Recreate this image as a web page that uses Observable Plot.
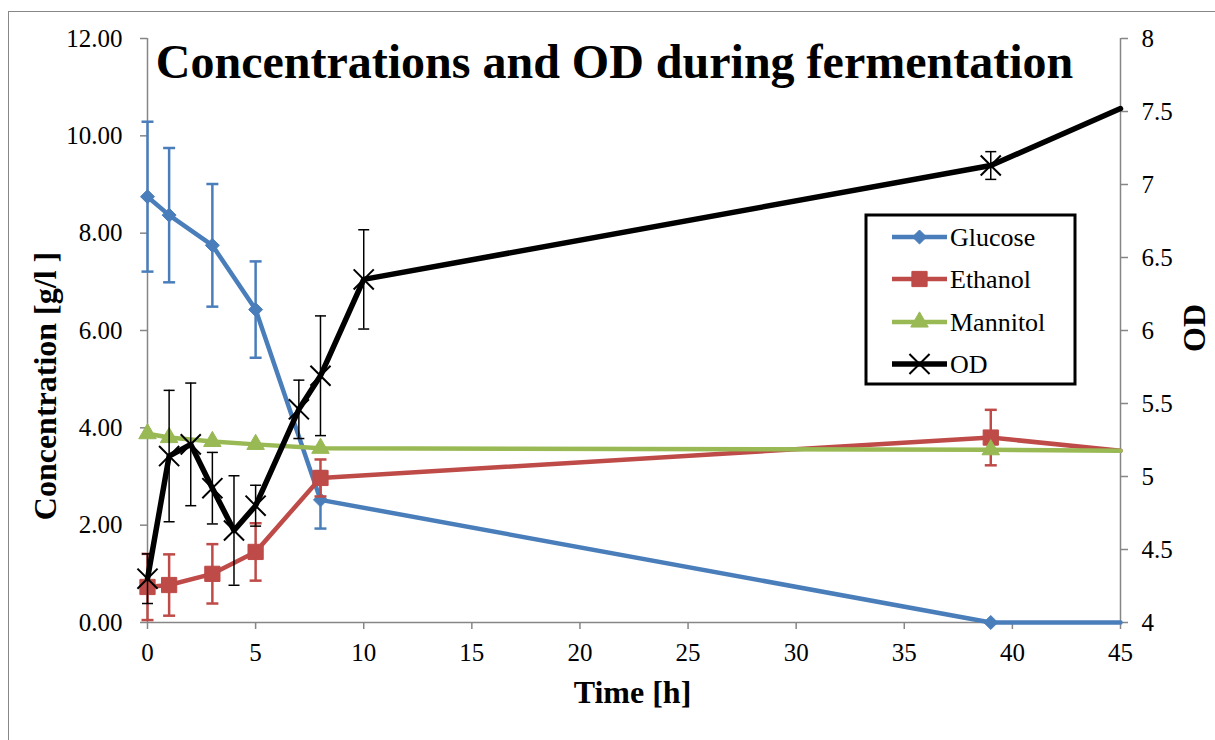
<!DOCTYPE html>
<html><head><meta charset="utf-8">
<script src="https://cdn.jsdelivr.net/npm/d3@7"></script>
<script src="https://cdn.jsdelivr.net/npm/@observablehq/plot@0.6"></script>
<style>
html,body{margin:0;padding:0;background:#fff;overflow:hidden;}
#wrap{position:relative;width:1215px;height:740px;overflow:hidden;background:#fff;}
#frame{position:absolute;left:8px;top:11px;width:1300px;height:900px;border:1.5px solid #888;box-sizing:border-box;}
#wrap svg{position:absolute;left:0;top:0;}
</style></head><body><div id="wrap"><div id="frame"></div></div>
<script>
// ---- data ----
const glucoseTime = [0, 1, 3, 5, 8, 39, 45];
const glucose     = [8.75, 8.37, 7.75, 6.43, 2.52, 0.00, 0.00];
const glucoseErr  = [1.54, 1.38, 1.26, 0.99, 0.59, 0, 0];

const ethanolTime = [0, 1, 3, 5, 8, 39, 45];
const ethanol     = [0.73, 0.77, 1.00, 1.45, 2.97, 3.80, 3.53];
const ethanolErr  = [0.68, 0.63, 0.61, 0.59, 0.38, 0.57, 0];

const mannitolTime = [0, 1, 3, 5, 8, 39, 45];
const mannitol     = [3.88, 3.80, 3.72, 3.66, 3.58, 3.55, 3.53];

const odTime = [0, 1, 2, 3, 4, 5, 7, 8, 10, 39, 45];
const od     = [4.30, 5.14, 5.22, 4.92, 4.63, 4.80, 5.46, 5.69, 6.35, 7.13, 7.52];
const odErr  = [0.17, 0.45, 0.42, 0.245, 0.375, 0.14, 0.20, 0.41, 0.34, 0.095, 0];

const xTicks = [0, 5, 10, 15, 20, 25, 30, 35, 40, 45];
const yTicks = [0, 2, 4, 6, 8, 10, 12];
const odTicks = [4, 4.5, 5, 5.5, 6, 6.5, 7, 7.5, 8];

const seriesNames = ["Glucose", "Ethanol", "Mannitol", "OD"];
const colors = ["#4A7EBB", "#BE4B48", "#98B954", "#000000"];
const title = "Concentrations and OD during fermentation";
const yLabel = "Concentration [g/l ]";
const y2Label = "OD";
const xLabel = "Time [h]";

// ---- helpers ----
const xMax = 45;
const od2y = v => (v - 4) * 3;   // secondary axis (4..8) onto primary (0..12)
const rows = (t, v, e) => t.map((ti, i) => ({t: ti, v: v[i], e: e ? e[i] : 0}));
const gRows = rows(glucoseTime, glucose, glucoseErr);
const eRows = rows(ethanolTime, ethanol, ethanolErr);
const mRows = rows(mannitolTime, mannitol);
const oRows = rows(odTime, od.map(od2y), odErr.map(e => e * 3));

const capSym = {draw(ctx, size) { const r = Math.sqrt(size / Math.PI); ctx.moveTo(-r, 0); ctx.lineTo(r, 0); }};
const AX = "#868686";
const FONT = "'Liberation Serif', 'Times New Roman', serif";

function errMarks(data, color, sw, capR) {
  const d = data.filter(r => r.e > 0 && r.t < xMax);
  return [
    Plot.ruleX(d, {x: "t", y1: r => r.v - r.e, y2: r => r.v + r.e, stroke: color, strokeWidth: sw}),
    Plot.dot(d, {x: "t", y: r => r.v + r.e, symbol: capSym, r: capR, stroke: color, strokeWidth: sw, fill: "none"}),
    Plot.dot(d, {x: "t", y: r => r.v - r.e, symbol: capSym, r: capR, stroke: color, strokeWidth: sw, fill: "none"})
  ];
}

const chart = Plot.plot({
  width: 1215, height: 740,
  marginLeft: 147, marginRight: 95, marginTop: 38, marginBottom: 118,
  x: {domain: [0, xMax]},
  y: {domain: [0, 12]},
  style: {fontFamily: FONT, fontSize: "25px", color: "black", background: "transparent"},
  marks: [
    Plot.axisX({ticks: xTicks, tickSize: 7, tickPadding: 14, stroke: AX, color: "black", strokeWidth: 1.5, label: null, tickFormat: d => String(d)}),
    Plot.axisY({ticks: yTicks, anchor: "left", tickSize: 7, tickPadding: 18, stroke: AX, color: "black", strokeWidth: 1.5, label: null, tickFormat: d => d.toFixed(2)}),
    Plot.axisY({ticks: odTicks.map(od2y), anchor: "right", tickSize: 7, tickPadding: 14, stroke: AX, color: "black", strokeWidth: 1.5, label: null, tickFormat: d => String(+(d / 3 + 4).toFixed(2))}),
    Plot.ruleX([0, xMax], {stroke: AX, strokeWidth: 1.5}),
    Plot.ruleY([0], {stroke: AX, strokeWidth: 1.5}),
    // Glucose
    ...errMarks(gRows, colors[0], 2.5, 6),
    Plot.line(gRows, {x: "t", y: "v", stroke: colors[0], strokeWidth: 4.5, strokeLinejoin: "round"}),
    Plot.dot(gRows.filter(r => r.t < xMax), {x: "t", y: "v", symbol: "diamond2", r: 6.3, fill: colors[0], stroke: colors[0], strokeWidth: 1}),
    // Ethanol
    ...errMarks(eRows, colors[1], 2.5, 6),
    Plot.line(eRows, {x: "t", y: "v", stroke: colors[1], strokeWidth: 4.5, strokeLinejoin: "round"}),
    Plot.dot(eRows.filter(r => r.t < xMax), {x: "t", y: "v", symbol: "square", r: 8.6, fill: colors[1], stroke: colors[1], strokeWidth: 1}),
    // Mannitol
    Plot.line(mRows, {x: "t", y: "v", stroke: colors[2], strokeWidth: 4.5, strokeLinejoin: "round"}),
    Plot.dot(mRows.filter(r => r.t < xMax), {x: "t", y: "v", symbol: "triangle", r: 6.5, fill: colors[2], stroke: colors[2], strokeWidth: 1}),
    // OD (secondary axis)
    ...errMarks(oRows, colors[3], 1.5, 5.5),
    Plot.line(oRows, {x: "t", y: "v", stroke: colors[3], strokeWidth: 5.5, strokeLinejoin: "round"}),
    Plot.dot(oRows.filter(r => r.t < xMax), {x: "t", y: "v", symbol: "times", r: 9.2, stroke: colors[3], strokeWidth: 2})
  ]
});
document.getElementById("wrap").appendChild(chart);

// ---- overlay: titles and legend ----
const ov = d3.select("#wrap").append("svg").attr("width", 1215).attr("height", 740)
  .style("font-family", FONT);
ov.append("text").attr("x", 614.5).attr("y", 78).attr("text-anchor", "middle")
  .attr("font-size", 48).attr("font-weight", "bold").text(title);
ov.append("text").attr("transform", "translate(56,386) rotate(-90)").attr("text-anchor", "middle")
  .attr("font-size", 32).attr("font-weight", "bold").text(yLabel);
ov.append("text").attr("transform", "translate(1205,328) rotate(-90)").attr("text-anchor", "middle")
  .attr("font-size", 32).attr("font-weight", "bold").text(y2Label);
ov.append("text").attr("x", 632.5).attr("y", 703).attr("text-anchor", "middle")
  .attr("font-size", 32).attr("font-weight", "bold").text(xLabel);

const lg = ov.append("g");
lg.append("rect").attr("x", 866).attr("y", 215).attr("width", 209).attr("height", 169)
  .attr("fill", "white").attr("stroke", "black").attr("stroke-width", 3);
const legSyms = [
  {type: d3.symbolDiamond2, size: 125, fill: true},
  {type: d3.symbolSquare, size: 232, fill: true},
  {type: d3.symbolTriangle, size: 133, fill: true},
  {type: d3.symbolTimes, size: 266, fill: false}
];
const rowY = [237, 279, 322, 364];
seriesNames.forEach((name, i) => {
  const y = rowY[i];
  lg.append("line").attr("x1", 892).attr("x2", 947).attr("y1", y).attr("y2", y)
    .attr("stroke", colors[i]).attr("stroke-width", i === 3 ? 5.5 : 4.5);
  lg.append("path").attr("transform", `translate(919.5,${y})`)
    .attr("d", d3.symbol().type(legSyms[i].type).size(legSyms[i].size)())
    .attr("fill", legSyms[i].fill ? colors[i] : "none").attr("stroke", colors[i])
    .attr("stroke-width", i === 3 ? 2 : 1);
  lg.append("text").attr("x", 950).attr("y", y + 8.5).attr("font-size", 26).text(name);
});
</script>
</body></html>
